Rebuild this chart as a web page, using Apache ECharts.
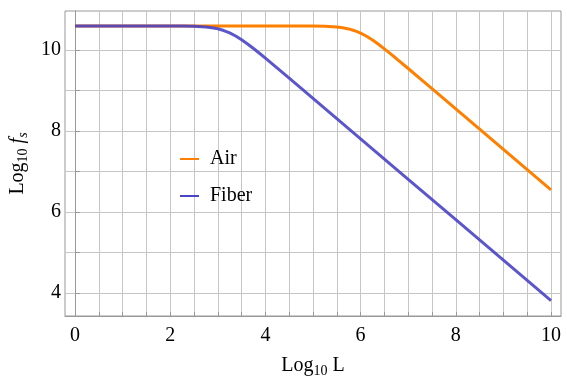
<!DOCTYPE html>
<html><head><meta charset="utf-8">
<script src="https://cdn.jsdelivr.net/npm/echarts@6/dist/echarts.min.js"></script>
<style>html,body{margin:0;padding:0;background:#fff}#c{width:567px;height:377px}</style>
</head><body><div id="c"></div>
<script>
const seriesNames = ['Air', 'Fiber'];
const airX = [0, 1, 2, 3, 4, 4.5, 4.75, 5, 5.25, 5.5, 5.625, 5.75, 5.875, 6, 6.125, 6.25, 6.375, 6.5, 6.625, 6.75, 7, 7.25, 7.5, 8, 9, 10];
const airY = [10.6, 10.6, 10.6, 10.6, 10.6, 10.6, 10.599, 10.597, 10.592, 10.574, 10.556, 10.527, 10.483, 10.423, 10.346, 10.251, 10.147, 10.033, 9.915, 9.795, 9.548, 9.300, 9.050, 8.55, 7.55, 6.55];
const fiberX = [0, 1, 2, 2.25, 2.5, 2.75, 2.875, 3, 3.125, 3.25, 3.375, 3.5, 3.625, 3.75, 3.875, 4, 4.25, 4.5, 5, 6, 7, 8, 9, 10];
const fiberY = [10.6, 10.6, 10.599, 10.597, 10.592, 10.575, 10.557, 10.530, 10.487, 10.429, 10.352, 10.259, 10.155, 10.043, 9.925, 9.804, 9.558, 9.309, 8.810, 7.81, 6.81, 5.81, 4.81, 3.81];
const xTickValues = [0, 0.5, 1, 1.5, 2, 2.5, 3, 3.5, 4, 4.5, 5, 5.5, 6, 6.5, 7, 7.5, 8, 8.5, 9, 9.5, 10];
const xLabelValues = [0, 2, 4, 6, 8, 10];
const yTickValues = [4, 5, 6, 7, 8, 9, 10];
const yLabelValues = [4, 6, 8, 10];

const FONT = 'Liberation Serif';
const zip = (xs, ys) => xs.map((x, i) => [x, ys[i]]);
const rich = {
  a: { fontSize: 20, fontFamily: FONT, color: '#000', lineHeight: 24 },
  s: { fontSize: 14, fontFamily: FONT, color: '#000', lineHeight: 14, verticalAlign: 'bottom' },
  i: { fontSize: 20, fontFamily: FONT, fontStyle: 'italic', color: '#000', lineHeight: 24 },
  is: { fontSize: 14, fontFamily: FONT, fontStyle: 'italic', color: '#000', lineHeight: 14, verticalAlign: 'bottom' }
};
const frame = '#999';
const gridColor = '#c6c6c6';
const chart = echarts.init(document.getElementById('c'), null, { renderer: 'canvas' });
chart.setOption({
  animation: false,
  backgroundColor: '#fff',
  grid: { left: 65, right: 6, top: 11, bottom: 61, outerBoundsMode: 'none', containLabel: false,
    show: true, borderColor: frame, borderWidth: 1, backgroundColor: 'transparent' },
  legend: {
    data: seriesNames, orient: 'vertical', left: 175, top: 144, itemWidth: 19, itemHeight: 2, icon: 'rect',
    itemGap: 17, textStyle: { fontSize: 20, fontFamily: FONT, color: '#000', padding: [0, 0, 0, 6] }
  },
  xAxis: {
    type: 'value', min: -0.21, max: 10.21,
    name: '{a|Log}{s|10}{a| L}', nameLocation: 'middle', nameGap: 38,
    nameTextStyle: { rich: rich },
    axisLine: { show: true, lineStyle: { color: frame } },
    axisTick: { show: true, inside: true, length: 4, customValues: xTickValues, lineStyle: { color: frame } },
    axisLabel: { customValues: xLabelValues, fontSize: 20, fontFamily: FONT, color: '#000', margin: 10 },
    splitLine: { show: true, lineStyle: { color: gridColor, width: 1 } }
  },
  yAxis: {
    type: 'value', min: 3.43, max: 10.97,
    name: '{a|Log}{s|10}{a| }{i|f}{is|s}', nameLocation: 'middle', nameGap: 34,
    nameTextStyle: { rich: rich },
    axisLine: { show: true, lineStyle: { color: frame } },
    axisTick: { show: true, inside: true, length: 5, customValues: yTickValues, lineStyle: { color: frame } },
    axisLabel: { customValues: yLabelValues, fontSize: 20, fontFamily: FONT, color: '#000', margin: 4 },
    splitLine: { show: true, lineStyle: { color: gridColor, width: 1 } }
  },
  series: [
    { name: seriesNames[0], type: 'line', data: zip(airX, airY), showSymbol: false, smooth: false,
      color: '#ff8000', lineStyle: { width: 3, color: '#ff8000' } },
    { name: seriesNames[1], type: 'line', data: zip(fiberX, fiberY), showSymbol: false, smooth: false,
      color: '#4a44c6', lineStyle: { width: 3, color: '#4a44c6', opacity: 0.9 } }
  ]
});
</script></body></html>
